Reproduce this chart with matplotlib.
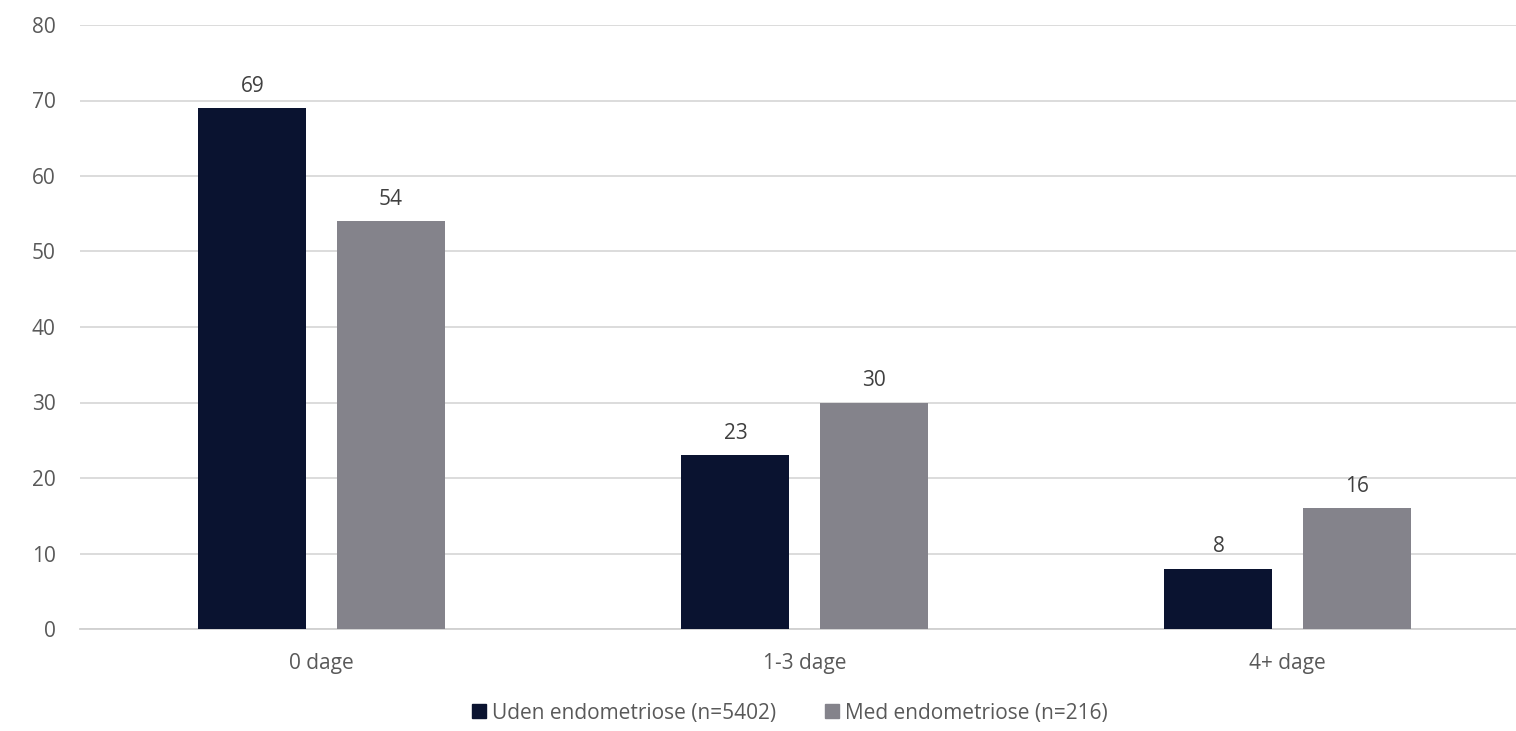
import numpy as np
import matplotlib
matplotlib.use("Agg")
import matplotlib.pyplot as plt
from matplotlib.patches import Patch

categories = ["0 dage", "1-3 dage", "4+ dage"]
uden = [69, 23, 8]
med = [54, 30, 16]
series_names = ["Uden endometriose (n=5402)", "Med endometriose (n=216)"]
y_ticks = [0, 10, 20, 30, 40, 50, 60, 70, 80]

dark = "#0a1330"
grey = "#84838b"
text_col = "#595959"
fs = 15

plt.rcParams["font.family"] = ["Open Sans", "DejaVu Sans"]

W, H = 1516, 731
fig = plt.figure(figsize=(W / 100, H / 100), dpi=100)
# plot area runs slightly past the right edge of the canvas
left, right, bottom, top = 80, 1529, 629, 25
ax = fig.add_axes([left / W, 1 - bottom / H, (right - left) / W, (bottom - top) / H])

x = np.arange(len(categories))
width = 0.2236
offset = 0.1429
b1 = ax.bar(x - offset, uden, width, color=dark, zorder=3)
b2 = ax.bar(x + offset, med, width, color=grey, zorder=3)

for bars, vals in ((b1, uden), (b2, med)):
    for rect, v in zip(bars, vals):
        ax.text(rect.get_x() + rect.get_width() / 2, v + 1.5, f"{v}",
                ha="center", va="bottom", fontsize=fs, color="#404040")

ax.set_xlim(-0.5, len(categories) - 0.5)
ax.set_ylim(0, 80)
ax.set_yticks(y_ticks)
ax.set_xticks(x)
ax.set_xticklabels(categories)
ax.yaxis.grid(True, color="#d9d9d9", linewidth=1.3, zorder=0)
ax.set_axisbelow(True)
for s in ("top", "right", "left"):
    ax.spines[s].set_visible(False)
ax.spines["bottom"].set_color("#d0d0d0")
ax.spines["bottom"].set_linewidth(1.3)
ax.tick_params(axis="both", length=0, labelsize=fs, colors=text_col)
ax.tick_params(axis="y", pad=17.5)
ax.tick_params(axis="x", pad=17)

handles = [Patch(color=dark), Patch(color=grey)]
fig.legend(handles, series_names, loc="center", bbox_to_anchor=(790 / W, 1 - 713 / H),
           ncol=2, frameon=False, fontsize=fs, handlelength=0.65, handleheight=0.65,
           handletextpad=0.3, columnspacing=2.35, labelcolor=text_col)

fig.savefig("out.png", dpi=100)
